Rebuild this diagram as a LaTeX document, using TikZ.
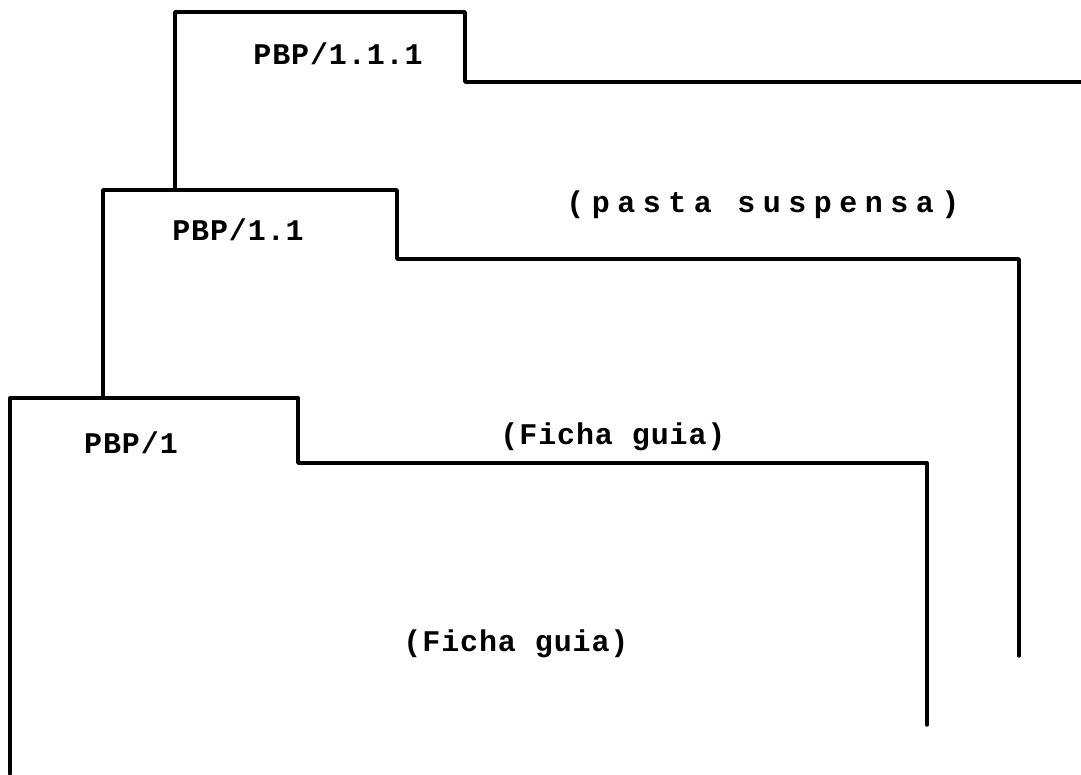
\documentclass[tikz,border=0pt]{standalone}
\usepackage{fontspec}
\newfontfamily\typefont{Liberation Mono}[LetterSpace=3]
\usetikzlibrary{positioning}

\begin{document}
\begin{tikzpicture}[x=1pt,y=-1pt,
  folder/.style={line width=3.4pt,line join=round,line cap=round},
  tabtext/.style={font=\typefont\bfseries\fontsize{30}{32}\selectfont},
  bodytext/.style={font=\typefont\bfseries\fontsize{30}{32}\selectfont}]
  \useasboundingbox (0,0) rectangle (1081,774);
  % folders, back to front: left x/top y/tab x/shoulder y/right x/bottom y/left bottom y
  \def\rows{%
    175/12/465/82/1081/82/190/338/54/{PBP/1.1.1}/763/205/{\addfontfeature{LetterSpace=25}(pasta suspensa)},%
    103/190/397/259/1019/656/398/238/230/{PBP/1.1}/613/437/{(Ficha guia)},%
    10/398/298/463/927/725/774/131/443/{PBP/1}/516/644/{(Ficha guia)}%
  }
  \foreach [count=\yi] \lx/\ty/\tx/\sy/\rx/\by/\ly/\ax/\ay/\ttl/\bx/\bby/\dsc in \rows {
    \draw[folder] (\lx,\ly) -- (\lx,\ty) -- (\tx,\ty) -- (\tx,\sy) -- (\rx,\sy) -- (\rx,\by);
    \node[tabtext] (tab\yi) at (\ax,\ay) {\ttl};
    \node[bodytext] (body\yi) at (\bx,\bby) {\dsc};
  }
\end{tikzpicture}
\end{document}
